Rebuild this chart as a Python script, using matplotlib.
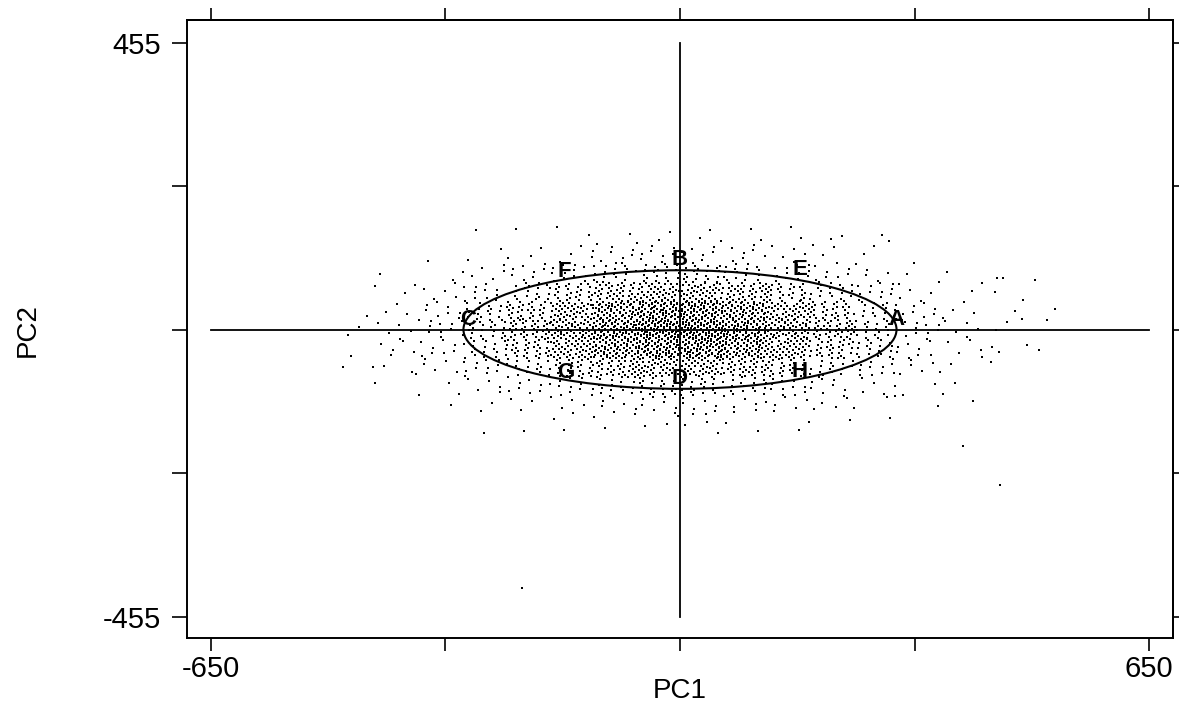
import numpy as np
import matplotlib
matplotlib.use("Agg")
import matplotlib.pyplot as plt
from matplotlib.patches import Ellipse

plt.rcParams["font.family"] = ["Liberation Sans", "DejaVu Sans"]

# density of the point cloud (points per cell)
cell_x = [-450, -390, -330, -270, -210, -150, -90, -30, 30, 90, 150, 210, 270, 330, 390, 450, 510]
cell_y = [150, 120, 90, 60, 30, 0, -30, -60, -90, -120, -150]
cell_w = 60
cell_h = 30
cell_counts = [
    [0, 0, 0, 1, 1, 2, 2, 3, 3, 2, 2, 1, 1, 0, 0, 0, 0],
    [0, 0, 1, 2, 3, 5, 7, 8, 8, 7, 5, 3, 2, 1, 0, 0, 0],
    [0, 1, 2, 5, 8, 12, 16, 20, 20, 16, 12, 8, 5, 2, 1, 0, 0],
    [1, 2, 5, 11, 18, 27, 38, 46, 46, 38, 27, 18, 11, 5, 2, 1, 0],
    [1, 4, 8, 18, 31, 47, 66, 82, 82, 66, 47, 31, 18, 8, 4, 1, 1],
    [2, 5, 10, 20, 36, 56, 78, 98, 98, 78, 56, 36, 20, 10, 5, 2, 1],
    [1, 4, 8, 18, 31, 47, 66, 82, 82, 66, 47, 31, 18, 8, 4, 1, 1],
    [1, 2, 5, 11, 18, 27, 38, 46, 46, 38, 27, 18, 11, 5, 2, 1, 0],
    [0, 1, 2, 5, 8, 12, 16, 20, 20, 16, 12, 8, 5, 2, 1, 0, 0],
    [0, 0, 1, 2, 3, 5, 7, 8, 8, 7, 5, 3, 2, 1, 0, 0, 0],
    [0, 0, 0, 1, 1, 2, 2, 3, 3, 2, 2, 1, 1, 0, 0, 0, 0],
]

# isolated points away from the cloud
out_x = [209, 290, 324, 439, 448, 492, 437, 474, 481, 418, 432, 392, 444, -219,
         381, 406, 298, 197, -425, -423, -398, -371]
out_y = [144, 140, 106, 81, 82, 79, 59, 17, -25, -43, -27, -184, -246, -409,
         -84, -114, -106, -117, -60, -84, -32, -68]

# ellipse and its labelled points
ell_center = (0, 0)
ell_width = 600
ell_height = 188
label_text = ["A", "B", "C", "D", "E", "F", "G", "H"]
label_x = [300, 0, -294, 0, 166, -160, -158, 166]
label_y = [0, 94, 0, -94, 79, 76, -84, -83]

xticks = [-650, -325, 0, 325, 650]
yticks = [-455, -227.5, 0, 227.5, 455]


def stipple(cx, cy, n, start):
    # spread n dots evenly over one cell (R2 low-discrepancy pattern)
    k = np.arange(start, start + n)
    u = (0.5 + k * 0.7548776662) % 1.0
    v = (0.5 + k * 0.5698402910) % 1.0
    return cx + (u - 0.5) * cell_w, cy + (v - 0.5) * cell_h


px, py = [], []
idx = 0
for r, cy in enumerate(cell_y):
    for c, cx in enumerate(cell_x):
        n = cell_counts[r][c]
        if n:
            xs, ys = stipple(cx, cy, n, idx * 37)
            px.extend(xs)
            py.extend(ys)
        idx += 1

fig = plt.figure(figsize=(11.79, 7.04), dpi=100)
ax = fig.add_axes([0.1586, 0.0938, 0.8363, 0.8771])

ax.plot(px, py, "s", ms=1.5, mew=0, color="black")
ax.plot(out_x, out_y, "s", ms=1.6, mew=0, color="black")

ax.plot([-650, 650], [0, 0], color="black", lw=1.3)
ax.plot([0, 0], [-455, 455], color="black", lw=1.3)
ax.add_patch(Ellipse(ell_center, ell_width, ell_height, fill=False, ec="black", lw=1.5))

for t, x, y in zip(label_text, label_x, label_y):
    ax.text(x, y, t, ha="center", va="bottom", fontsize=16, fontweight="bold")

ax.set_xlim(-683, 683)
ax.set_ylim(-489, 490)
ax.set_xticks(xticks)
ax.set_xticklabels(["-650", "", "", "", "650"])
ax.set_yticks(yticks)
ax.set_yticklabels(["-455", "", "", "", "455"])
ax.tick_params(axis="x", direction="out", length=9, width=1.2, labelsize=21, pad=3)
ax.tick_params(axis="y", direction="out", length=11, width=1.2, labelsize=21, pad=8)

top = ax.secondary_xaxis("top")
top.set_xticks(xticks)
top.set_xticklabels([])
top.tick_params(direction="out", length=9, width=1.2)
right = ax.secondary_yaxis("right")
right.set_yticks(yticks)
right.set_yticklabels([])
right.tick_params(direction="out", length=4.5, width=1.2)

for sp in list(ax.spines.values()) + [top.spines["top"], right.spines["right"]]:
    sp.set_linewidth(1.4)

fig.text(680 / 1179, 1 - 691 / 704, "PC1", ha="center", va="center", fontsize=20)
fig.text(28 / 1179, 1 - 330 / 704, "PC2", ha="center", va="center", fontsize=20,
         rotation=90)

fig.savefig("out.png", dpi=100)
